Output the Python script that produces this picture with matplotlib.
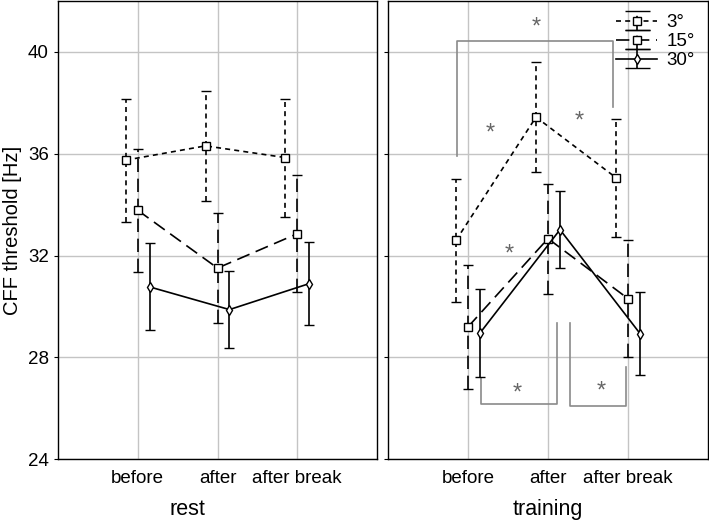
import matplotlib
matplotlib.use("Agg")
import matplotlib.pyplot as plt
from matplotlib.lines import Line2D
import numpy as np

plt.rcParams['font.family'] = ['Liberation Sans', 'DejaVu Sans']

categories = ['before', 'after', 'after break']
labels = ['3°', '15°', '30°']

rest_3 = [35.75, 36.31, 35.85]
rest_15 = [33.78, 31.51, 32.86]
rest_30 = [30.77, 29.88, 30.90]
train_3 = [32.60, 37.44, 35.06]
train_15 = [29.20, 32.67, 30.31]
train_30 = [28.96, 33.02, 28.94]

err_3 = [2.42, 2.16, 2.32]
err_15 = [2.42, 2.16, 2.30]
err_30 = [1.71, 1.52, 1.64]

yticks = [24, 28, 32, 36, 40]

fig = plt.figure(figsize=(7.09, 5.23), dpi=100)
ax1 = fig.add_axes([58/709, 1-459.3/523, 319/709, 458.3/523])
ax2 = fig.add_axes([388/709, 1-459.3/523, 320/709, 458.3/523])

styles = [
    dict(ls=(0, (3, 2.5)), marker='s', ms=5.2),
    dict(ls=(0, (8, 4)), marker='s', ms=5.2),
    dict(ls='-', marker='d', ms=4.8),
]
offsets = [-0.15, 0.0, 0.15]

def draw(ax, series, errs):
    x = np.arange(len(categories))
    handles = []
    for s, e, st, off, lab in zip(series, errs, styles, offsets, labels):
        cont = ax.errorbar(x + off, s, yerr=e, color='black', lw=1.2,
                           ls=st['ls'], marker=st['marker'], ms=st['ms'],
                           mfc='white', mec='black', mew=1.0,
                           capsize=3.5, capthick=1.2, elinewidth=1.2,
                           label=lab, zorder=3)
        for lc in cont[2]:
            lc.set_linestyle(st['ls'])
        handles.append(cont)
    ax.set_xlim(-1, 3)
    ax.set_ylim(24, 42)
    ax.set_xticks(x)
    ax.set_xticklabels(categories, fontsize=13.5)
    ax.set_yticks(yticks)
    ax.grid(True, color='#c4c4c4', lw=1.0, zorder=0)
    ax.set_axisbelow(True)
    ax.tick_params(axis='x', length=0, pad=8)
    ax.tick_params(axis='y', direction='out', length=3, labelsize=13.5)
    for sp in ax.spines.values():
        sp.set_linewidth(1.0)
        sp.set_color('black')
    return handles

draw(ax1, [rest_3, rest_15, rest_30], [err_3, err_15, err_30])
h = draw(ax2, [train_3, train_15, train_30], [err_3, err_15, err_30])
ax2.set_yticklabels([])

ax1.set_ylabel('CFF threshold [Hz]', fontsize=14.5)
ax1.yaxis.set_label_coords(-0.112, 0.5)
ax1.set_xlabel('rest', fontsize=15.5)
ax1.xaxis.set_label_coords(0.407, -0.086)
ax2.set_xlabel('training', fontsize=15.5)
ax2.xaxis.set_label_coords(0.5, -0.086)

# significance brackets
gc = '#8a8a8a'
ax2.plot([-0.134, -0.134, 1.816, 1.816], [35.9, 40.44, 40.44, 37.85], color=gc, lw=1.2, zorder=2)
ax2.plot([0.16, 0.16, 1.11, 1.11], [27.2, 26.17, 26.17, 29.36], color=gc, lw=1.2, zorder=2)
ax2.plot([1.275, 1.275, 1.975, 1.975], [29.36, 26.1, 26.1, 27.62], color=gc, lw=1.2, zorder=2)
stars = [(0.85, 40.95), (0.275, 36.8), (1.39, 37.27), (0.51, 32.05), (0.62, 26.6), (1.66, 26.66)]
for sx, sy in stars:
    ax2.text(sx, sy, '*', color='#666666', fontsize=17, ha='center', va='center', zorder=4)

leg = ax2.legend(handles=h, labels=labels, loc='upper right', bbox_to_anchor=(1.0, 1.0),
                 frameon=False, fontsize=13.5, handlelength=2.2, labelspacing=0.1,
                 handletextpad=0.5, borderaxespad=0.3)
for ln in leg.findobj(Line2D):
    if ln.get_marker() == '_':
        ln.set_markersize(18)

fig.savefig('out.png', dpi=100)
